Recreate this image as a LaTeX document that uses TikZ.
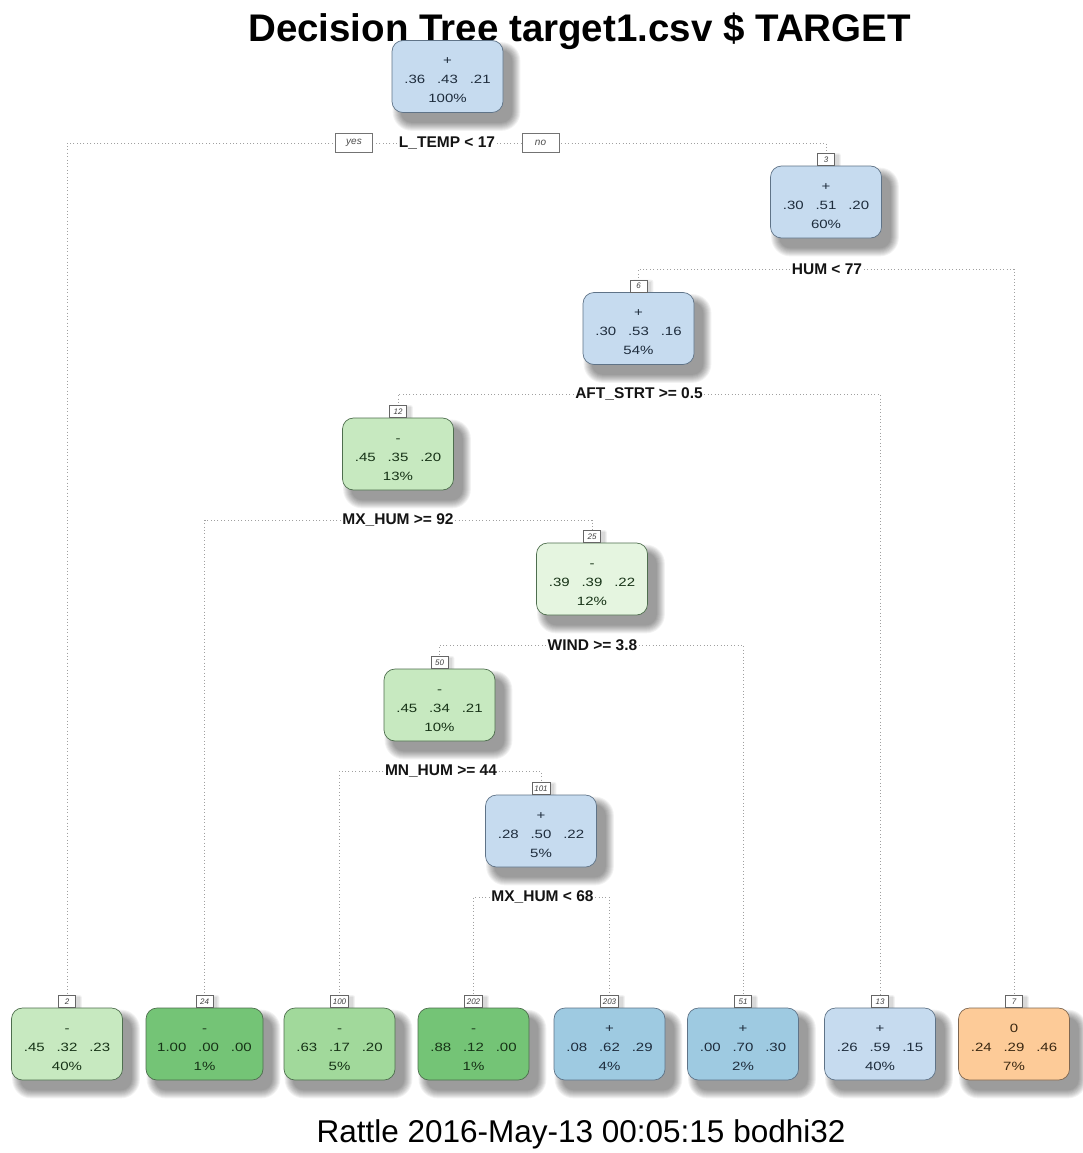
\documentclass[tikz,border=0pt]{standalone}
\usepackage{fontspec}
\setmainfont{Liberation Sans}
\usetikzlibrary{calc}

% fills and outlines of the tree boxes
\definecolor{bluefill}{HTML}{C6DBEF}
\definecolor{bluemid}{HTML}{9ECAE1}
\definecolor{bluedraw}{HTML}{5F7387}
\definecolor{bluetext}{HTML}{1E2C3C}
\definecolor{greenpale}{HTML}{E5F5E0}
\definecolor{greenlight}{HTML}{C7E9C0}
\definecolor{greenmid}{HTML}{A1D99B}
\definecolor{greendark}{HTML}{74C476}
\definecolor{greendraw}{HTML}{4E6E4E}
\definecolor{greentext}{HTML}{173317}
\definecolor{orangefill}{HTML}{FDCB98}
\definecolor{orangedraw}{HTML}{7E6650}
\definecolor{orangetext}{HTML}{3A2812}
\definecolor{linkgray}{HTML}{A0A0A0}

\pgfdeclarelayer{paper}
\pgfdeclarelayer{background}
\pgfdeclarelayer{shade}
\pgfsetlayers{paper,background,shade,main}

\newcommand\boxfont{\fontsize{12}{19}\selectfont}
\newcommand\splitfont{\fontsize{15.5}{18}\selectfont\bfseries}
\newcommand\probs[3]{\scalebox{1.25}[1]{#1\hspace{9.5pt}#2\hspace{9.5pt}#3}}
\newcommand\treebody[5]{\rule{0pt}{15pt}\scalebox{1.25}[1]{#1}\\\probs{#2}{#3}{#4}\\\scalebox{1.25}[1]{#5\%}}

% soft drop shadow: stacked translucent copies, each one point larger
% #1 node, #2/#3 offset right/down, #4 steps, #5 corner radius
\newcommand\castshadow[5]{%
  \foreach \k in {0,...,#4}{%
    \pgfmathsetmacro\rr{#5+\k}%
    \fill[black, opacity=0.05, rounded corners=\rr pt]
      ($(#1.north west)+(#2-\k,#3-\k)$) rectangle ($(#1.south east)+(#2+\k,#3+\k)$);
  }}

\tikzset{
  treebox/.style={rectangle, rounded corners=11pt, minimum width=111pt,
    minimum height=72pt, inner sep=0pt, align=center, line width=0.7pt,
    font=\boxfont},
  bluebox/.style={treebox, fill=bluefill, draw=bluedraw, text=bluetext},
  bluemidbox/.style={treebox, fill=bluemid, draw=bluedraw, text=bluetext},
  palebox/.style={treebox, fill=greenpale, draw=greendraw, text=greentext},
  lightbox/.style={treebox, fill=greenlight, draw=greendraw, text=greentext},
  midbox/.style={treebox, fill=greenmid, draw=greendraw, text=greentext},
  darkbox/.style={treebox, fill=greendark, draw=greendraw, text=greentext},
  orangebox/.style={treebox, fill=orangefill, draw=orangedraw, text=orangetext},
  numtag/.style={draw=black!60, fill=white, line width=0.5pt,
    font=\fontsize{8}{9}\selectfont\itshape, text=black!75,
    minimum width=17pt, minimum height=12pt, inner xsep=2.5pt, inner ysep=0pt,
    anchor=south},
  splitlab/.style={font=\splitfont, text=black!92, fill=white, inner sep=1.5pt},
  answer/.style={draw=black!55, fill=white, line width=0.5pt,
    font=\fontsize{10}{11}\selectfont\itshape, text=black!70,
    minimum width=37pt, minimum height=19pt, inner sep=0pt},
  link/.style={draw=linkgray, line width=0.9pt, dash pattern=on 1pt off 2.4pt}
}

\begin{document}
\begin{tikzpicture}[x=1pt, y=-1pt]
\useasboundingbox (0,0) rectangle (1082,1153);
\begin{pgfonlayer}{paper}
  \fill[white] (0,0) rectangle (1082,1153);
\end{pgfonlayer}

% title and footer
\node[font=\fontsize{38.5}{44}\selectfont\bfseries, anchor=base] (title)
  at (579.5,42) {Decision Tree target1.csv \$ TARGET};
\node[font=\fontsize{31.5}{36}\selectfont, anchor=base] (footer)
  at (581,1142) {Rattle 2016-May-13 00:05:15 bodhi32};

% inner nodes
\node[bluebox]  (n1)   at (447.5,76.5) {\treebody{+}{.36}{.43}{.21}{100}};
\node[bluebox]  (n3)   at (826,202)    {\treebody{+}{.30}{.51}{.20}{60}};
\node[bluebox]  (n6)   at (638.5,328.5){\treebody{+}{.30}{.53}{.16}{54}};
\node[lightbox] (n12)  at (398,454)    {\treebody{-}{.45}{.35}{.20}{13}};
\node[palebox]  (n25)  at (592,579)    {\treebody{-}{.39}{.39}{.22}{12}};
\node[lightbox] (n50)  at (439.5,705)  {\treebody{-}{.45}{.34}{.21}{10}};
\node[bluebox]  (n101) at (541,831)    {\treebody{+}{.28}{.50}{.22}{5}};

% leaves
\node[lightbox]   (l2)   at (67,1044)    {\treebody{-}{.45}{.32}{.23}{40}};
\node[darkbox, minimum width=117pt] (l24) at (204.5,1044) {\treebody{-}{1.00}{.00}{.00}{1}};
\node[midbox]     (l100) at (339.5,1044) {\treebody{-}{.63}{.17}{.20}{5}};
\node[darkbox]    (l202) at (473.5,1044) {\treebody{-}{.88}{.12}{.00}{1}};
\node[bluemidbox] (l203) at (609.5,1044) {\treebody{+}{.08}{.62}{.29}{4}};
\node[bluemidbox] (l51)  at (743,1044)   {\treebody{+}{.00}{.70}{.30}{2}};
\node[bluebox]    (l13)  at (880,1044)   {\treebody{+}{.26}{.59}{.15}{40}};
\node[orangebox]  (l7)   at (1014,1044)  {\treebody{0}{.24}{.29}{.46}{7}};

% node numbers
\node[numtag] (t3)   at (n3.north)   {3};
\node[numtag] (t6)   at (n6.north)   {6};
\node[numtag] (t12)  at (n12.north)  {12};
\node[numtag] (t25)  at (n25.north)  {25};
\node[numtag] (t50)  at (n50.north)  {50};
\node[numtag] (t101) at (n101.north) {101};
\node[numtag] (t2)   at (l2.north)   {2};
\node[numtag] (t24)  at (l24.north)  {24};
\node[numtag] (t100) at (l100.north) {100};
\node[numtag] (t202) at (l202.north) {202};
\node[numtag] (t203) at (l203.north) {203};
\node[numtag] (t51)  at (l51.north)  {51};
\node[numtag] (t13)  at (l13.north)  {13};
\node[numtag] (t7)   at (l7.north)   {7};

% split rules
\node[splitlab] (s1)   at (447,143)   {L\_TEMP < 17};
\node[splitlab] (s3)   at (827,269)   {HUM < 77};
\node[splitlab] (s6)   at (639,394)   {AFT\_STRT >= 0.5};
\node[splitlab] (s12)  at (398,520)   {MX\_HUM >= 92};
\node[splitlab] (s25)  at (592.5,645) {WIND >= 3.8};
\node[splitlab] (s50)  at (441,771)   {MN\_HUM >= 44};
\node[splitlab] (s101) at (542.5,897) {MX\_HUM < 68};

\node[answer] (yes) at (354,142.5) {yes};
\node[answer] (no)  at (540.5,142.5) {no};

% shadows under boxes and number tags
\begin{pgfonlayer}{shade}
  \foreach \b in {n1,n3,n6,n12,n25,n50,n101,l2,l24,l100,l202,l203,l51,l13,l7}
    {\castshadow{\b}{9}{10}{8}{11}}
  \foreach \b in {t3,t6,t12,t25,t50,t101,t2,t24,t100,t202,t203,t51,t13,t7}
    {\castshadow{\b}{4}{2}{2}{0}}
\end{pgfonlayer}

% dotted branches
\begin{pgfonlayer}{background}
  \draw[link] (s1.west)   -| (t2.north);
  \draw[link] (s1.east)   -| (t3.north);
  \draw[link] (s3.west)   -| (t6.north);
  \draw[link] (s3.east)   -| (t7.north);
  \draw[link] (s6.west)   -| (t12.north);
  \draw[link] (s6.east)   -| (t13.north);
  \draw[link] (s12.west)  -| (t24.north);
  \draw[link] (s12.east)  -| (t25.north);
  \draw[link] (s25.west)  -| (t50.north);
  \draw[link] (s25.east)  -| (t51.north);
  \draw[link] (s50.west)  -| (t100.north);
  \draw[link] (s50.east)  -| (t101.north);
  \draw[link] (s101.west) -| (t202.north);
  \draw[link] (s101.east) -| (t203.north);
\end{pgfonlayer}
\end{tikzpicture}
\end{document}
